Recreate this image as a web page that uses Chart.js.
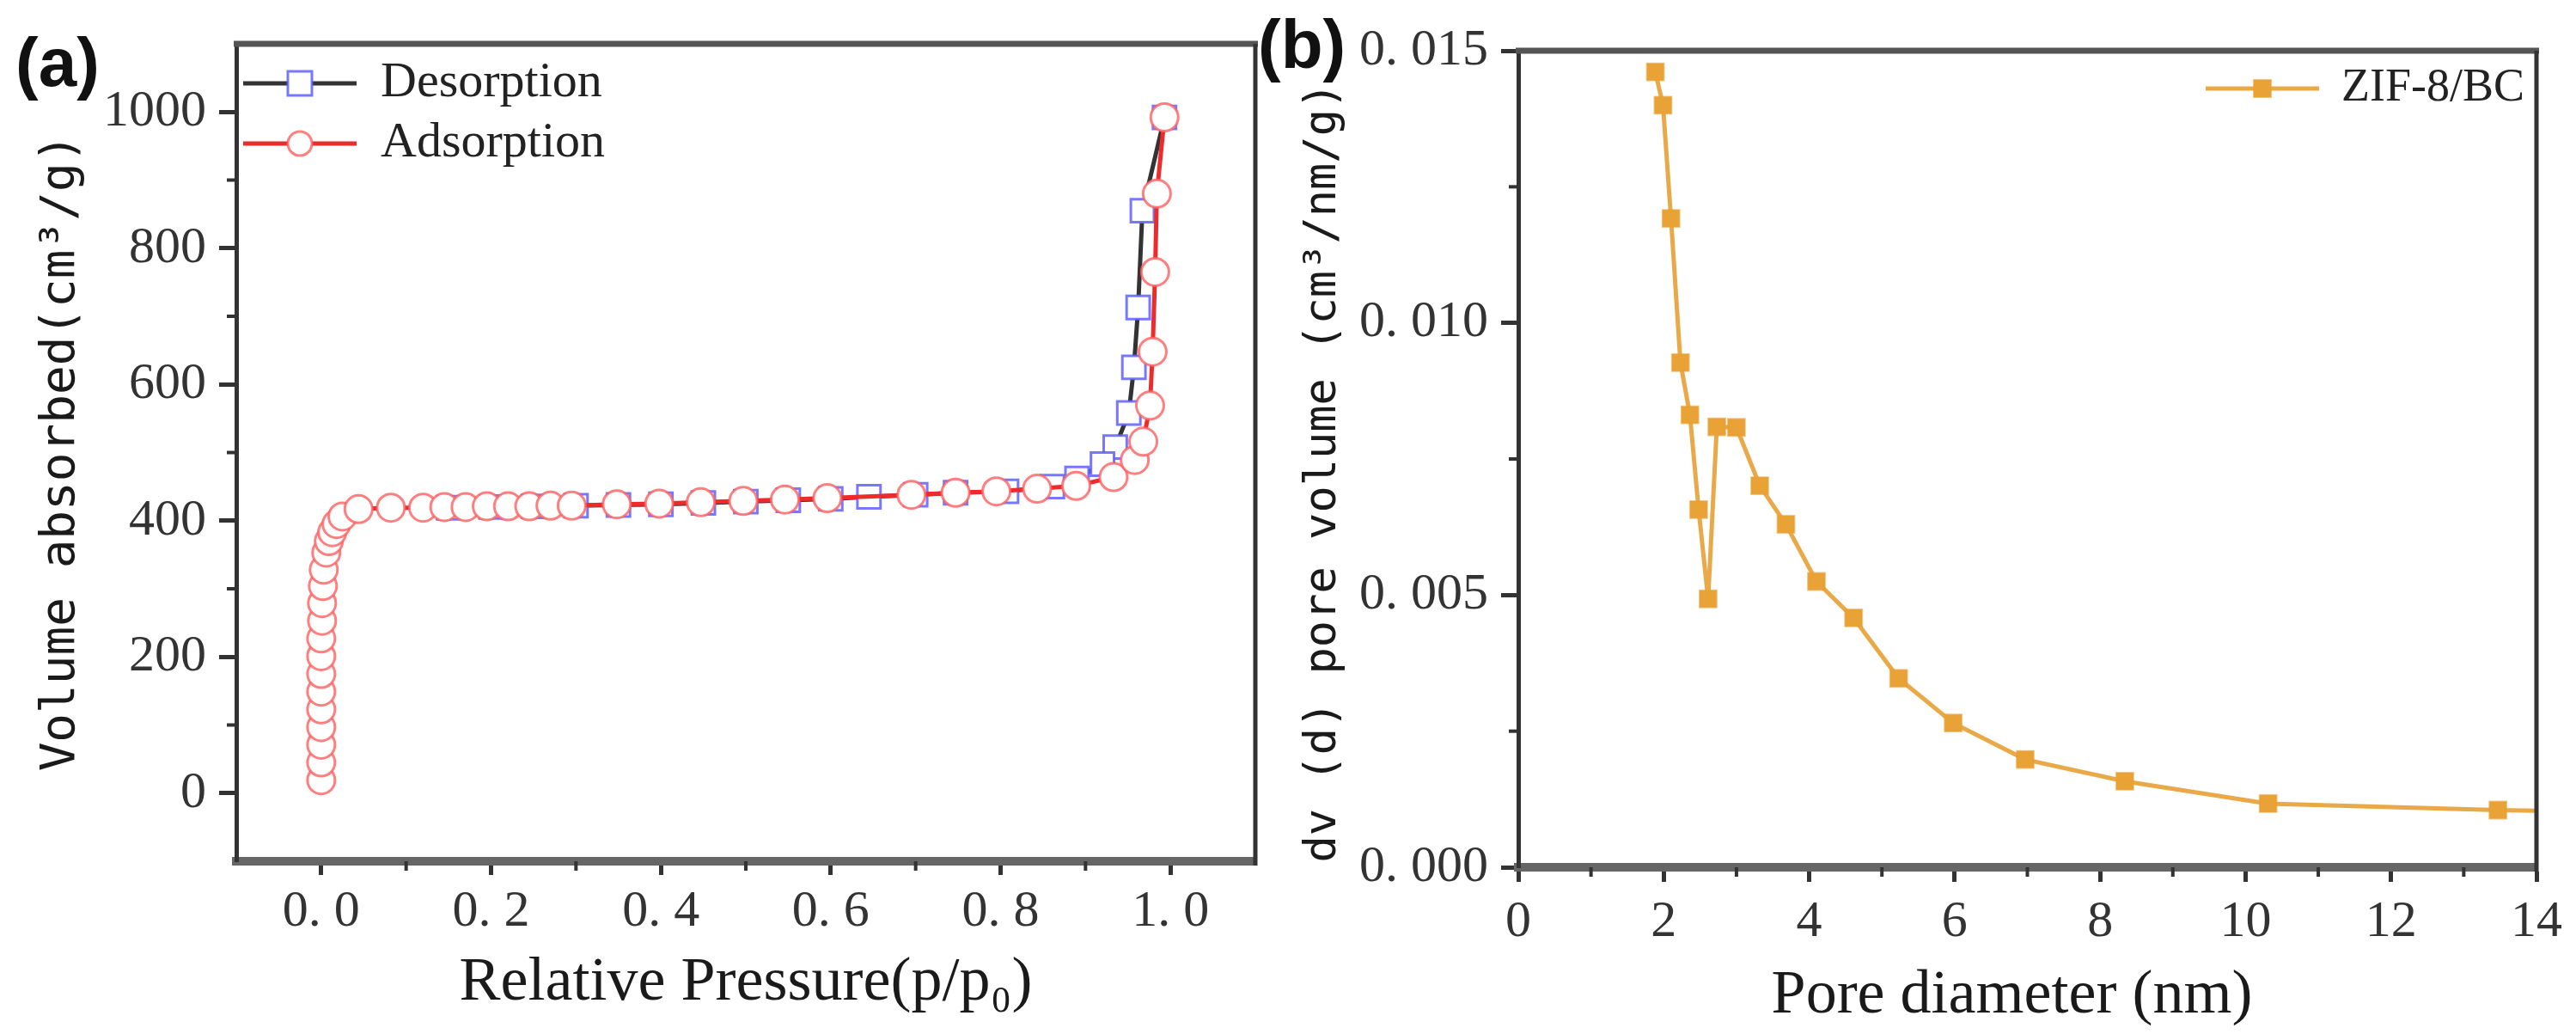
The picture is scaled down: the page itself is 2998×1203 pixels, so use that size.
<!DOCTYPE html>
<html>
<head>
<meta charset="utf-8">
<script src="https://cdn.jsdelivr.net/npm/chart.js@4.4.1/dist/chart.umd.min.js"></script>
<style>
body { margin: 0; background: #fff; width: 2998px; height: 1203px; overflow: hidden; position: relative; }
.box { position: absolute; top: 0; height: 1203px; }
#boxA { left: 0; width: 1500px; }
#boxB { left: 1500px; width: 1498px; }
.tag { position: absolute; font: bold 80px "Liberation Sans", Arial, sans-serif; line-height: 80px; color: #111; }
</style>
</head>
<body>
<div class="box" id="boxA"><canvas id="isotherm"></canvas></div>
<div class="box" id="boxB"><canvas id="poresize"></canvas></div>
<div class="tag" style="left:18px;top:33px">(a)</div>
<div class="tag" style="left:1464px;top:12px">(b)</div>
<script>
// (a) N2 isotherm
const adsX = [0, 0, 0, 0, 0, 0, 0, 0, 0, 0.001, 0.001, 0.002, 0.003, 0.006, 0.009, 0.013, 0.018, 0.025,
    0.044, 0.082, 0.12, 0.145, 0.17, 0.195, 0.22, 0.245, 0.27, 0.295, 0.348, 0.398, 0.447, 0.497, 0.546, 0.596,
    0.695, 0.747, 0.795, 0.843, 0.889, 0.933, 0.958, 0.968, 0.976, 0.979, 0.982, 0.984, 0.993]
const adsY = [19, 45, 71, 97, 123, 149, 175, 201, 227, 253, 279, 304, 328, 353, 370, 383, 395, 406,
    417, 419, 419, 420, 420, 421, 421, 421, 422, 422, 424, 425, 427, 429, 431, 433,
    438, 441, 443, 447, 451, 464, 489, 516, 569, 648, 765, 880, 992]
const desX = [0.993, 0.967, 0.962, 0.957, 0.951, 0.935, 0.92, 0.89, 0.861, 0.807, 0.747, 0.70, 0.645,
    0.60, 0.55, 0.50, 0.45, 0.40, 0.35, 0.30, 0.25, 0.20, 0.15]
const desY = [992, 855, 713, 625, 558, 508, 483, 462, 450, 443, 441, 438, 435,
    432, 430, 428, 426, 424, 423, 422, 421, 420, 419]
const isoXTicks = [0, 0.2, 0.4, 0.6, 0.8, 1.0]
const isoXMinor = [0.1, 0.3, 0.5, 0.7, 0.9]
const isoYTicks = [0, 200, 400, 600, 800, 1000]
const isoYMinor = [100, 300, 500, 700, 900]

// (b) pore size distribution
const poreD = [1.885, 1.99, 2.10, 2.23, 2.36, 2.48, 2.61, 2.73, 3.00, 3.32, 3.68, 4.10, 4.61, 5.23,
    5.98, 6.97, 8.34, 10.31, 13.47, 15.5]
const poreV = [0.01461, 0.0140, 0.01192, 0.00927, 0.00831, 0.00657, 0.00493, 0.00809, 0.00808, 0.00701,
    0.00630, 0.00525, 0.00458, 0.00347, 0.00265, 0.00198, 0.00158, 0.00117, 0.00105, 0.00101]
const psdXTicks = [0, 2, 4, 6, 8, 10, 12, 14]
const psdXMinor = [1, 3, 5, 7, 9, 11, 13]
const psdYTicks = [0, 0.005, 0.010, 0.015]
const psdYMinor = [0.0025, 0.0075, 0.0125]

function pairs(xs, ys) {
    return xs.map((x, i) => ({x: x, y: ys[i]}))
}

function dotted(v, digits) {
    return v.toFixed(digits).replace('.', '. ')
}

// minor ticks + top/right edges of the box
const framePlugin = {
    id: 'frame',
    afterDraw(chart, args, opts) {
        const ctx = chart.ctx
        const a = chart.chartArea
        const xs = chart.scales.x
        const ys = chart.scales.y
        ctx.save()
        ctx.strokeStyle = '#333'
        ctx.lineWidth = 4
        opts.xMinor.forEach(v => {
            const px = xs.getPixelForValue(v)
            ctx.beginPath()
            ctx.moveTo(px, a.bottom)
            ctx.lineTo(px, a.bottom + 11)
            ctx.stroke()
        })
        opts.yMinor.forEach(v => {
            const py = ys.getPixelForValue(v)
            ctx.beginPath()
            ctx.moveTo(a.left - 11, py)
            ctx.lineTo(a.left, py)
            ctx.stroke()
        })
        ctx.strokeStyle = '#555'
        ctx.lineWidth = 7
        ctx.beginPath()
        ctx.moveTo(a.left - 3, a.top)
        ctx.lineTo(a.right + 3, a.top)
        ctx.stroke()
        ctx.strokeStyle = '#333'
        ctx.lineWidth = 5
        ctx.beginPath()
        ctx.moveTo(a.right, a.top)
        ctx.lineTo(a.right, a.bottom + 5)
        ctx.stroke()
        ctx.restore()
    }
}

// legend drawn inside the plot box
const keyPlugin = {
    id: 'key',
    afterDraw(chart, args, opts) {
        const ctx = chart.ctx
        const a = chart.chartArea
        ctx.save()
        opts.rows.forEach(row => {
            const ds = chart.data.datasets[row.index]
            const x0 = row.anchor === 'right' ? a.right + row.dx : a.left + row.dx
            const y = a.top + row.dy
            const mx = x0 + 66
            ctx.strokeStyle = ds.borderColor
            ctx.lineWidth = ds.borderWidth
            ctx.beginPath()
            ctx.moveTo(x0, y)
            ctx.lineTo(x0 + 132, y)
            ctx.stroke()
            ctx.fillStyle = ds.pointBackgroundColor
            ctx.strokeStyle = ds.pointBorderColor
            ctx.lineWidth = ds.pointBorderWidth
            ctx.beginPath()
            if (ds.pointStyle === 'circle') {
                ctx.arc(mx, y, row.size, 0, Math.PI * 2)
            } else {
                ctx.rect(mx - row.size, y - row.size, row.size * 2, row.size * 2)
            }
            ctx.fill()
            ctx.stroke()
            ctx.fillStyle = '#222'
            ctx.font = opts.fontSize + 'px "Liberation Serif"'
            ctx.textBaseline = 'middle'
            ctx.fillText(ds.label, x0 + row.text, y)
        })
        ctx.restore()
    }
}

function axisX(min, max, ticks, fmt, height, pad, tl, title, titlePad) {
    return {
        type: 'linear', min: min, max: max,
        afterBuildTicks: s => { s.ticks = ticks.map(v => ({value: v})) },
        afterFit: s => { s.height = height },
        border: {display: true, color: '#666', width: 10},
        grid: {display: true, drawOnChartArea: false, drawTicks: true, tickLength: tl, tickWidth: 5, tickColor: '#333'},
        ticks: {padding: pad, color: '#333', autoSkip: false, maxRotation: 0,
            font: {family: 'Liberation Serif', size: 60}, callback: fmt},
        title: {display: true, text: title, color: '#1a1a1a',
            font: {family: 'Liberation Serif', size: 72}, padding: {top: 0, bottom: titlePad}}
    }
}

function axisY(min, max, ticks, fmt, width, title, titleSize, titlePad) {
    return {
        type: 'linear', min: min, max: max,
        afterBuildTicks: s => { s.ticks = ticks.map(v => ({value: v})) },
        afterFit: s => { s.width = width },
        border: {display: true, color: '#333', width: 5},
        grid: {display: true, drawOnChartArea: false, drawTicks: true, tickLength: 20, tickWidth: 5, tickColor: '#333'},
        ticks: {padding: 15, color: '#333', font: {family: 'Liberation Serif', size: 60}, callback: fmt},
        title: {display: true, text: title, color: '#1a1a1a',
            font: {family: 'DejaVu Sans Mono', size: titleSize}, padding: {top: titlePad, bottom: 0}}
    }
}

function drawIsotherm() {
    const ctx = document.getElementById('isotherm')
    new Chart(ctx, {
        type: 'line',
        data: {
            datasets: [{
                label: 'Adsorption',
                data: pairs(adsX, adsY),
                borderColor: '#ee2b2b',
                borderWidth: 5,
                pointStyle: 'circle',
                pointRadius: 16,
                pointBorderWidth: 3,
                pointBorderColor: 'rgba(255,95,95,0.8)',
                pointBackgroundColor: '#fff',
                tension: 0
            }, {
                label: 'Desorption',
                data: pairs(desX, desY),
                borderColor: '#333',
                borderWidth: 5,
                pointStyle: 'rect',
                pointRadius: 19,
                pointBorderWidth: 3,
                pointBorderColor: 'rgba(95,95,255,0.85)',
                pointBackgroundColor: '#fff',
                tension: 0
            }]
        },
        options: {
            responsive: true,
            maintainAspectRatio: false,
            animation: false,
            layout: {padding: {top: 43, right: 39, bottom: 0, left: 0}},
            plugins: {
                legend: {display: false},
                tooltip: {enabled: false},
                frame: {xMinor: isoXMinor, yMinor: isoYMinor},
                key: {fontSize: 58, rows: [
                    {index: 1, anchor: 'left', dx: 8, dy: 46, size: 14, text: 160},
                    {index: 0, anchor: 'left', dx: 8, dy: 116, size: 14, text: 160}
                ]}
            },
            scales: {
                x: axisX(-0.1, 1.1, isoXTicks, v => dotted(v, 1), 201, 7, 16, 'Relative Pressure(p/p\u2080)', 16),
                y: axisY(-100, 1100, isoYTicks, v => String(v), 275, 'Volume absorbed(cm\u00b3/g)', 56, 38)
            }
        },
        plugins: [framePlugin, keyPlugin]
    })
}

function drawPoreSize() {
    const ctx = document.getElementById('poresize')
    new Chart(ctx, {
        type: 'line',
        data: {
            datasets: [{
                label: 'ZIF-8/BC',
                data: pairs(poreD, poreV),
                borderColor: 'rgba(231,160,52,0.9)',
                borderWidth: 5,
                pointStyle: 'rect',
                pointRadius: 14,
                pointBorderWidth: 2,
                pointBorderColor: 'rgba(231,160,52,0.6)',
                pointBackgroundColor: '#e8a235',
                tension: 0
            }]
        },
        options: {
            responsive: true,
            maintainAspectRatio: false,
            animation: false,
            layout: {padding: {top: 59, right: 46, bottom: 0, left: 0}},
            plugins: {
                legend: {display: false},
                tooltip: {enabled: false},
                frame: {xMinor: psdXMinor, yMinor: psdYMinor},
                key: {fontSize: 54, rows: [
                    {index: 0, anchor: 'right', dx: -385, dy: 44, size: 10, text: 158}
                ]}
            },
            scales: {
                x: axisX(0, 14, psdXTicks, v => String(v), 194, 11, 17, 'Pore diameter (nm)  ', 1),
                y: axisY(0, 0.015, psdYTicks, v => dotted(v, 3), 267, 'dv (d) pore volume (cm\u00b3/nm/g) ', 52, 9)
            }
        },
        plugins: [framePlugin, keyPlugin]
    })
}

window.onload = () => {
    drawIsotherm()
    drawPoreSize()
}
</script>
</body>
</html>
